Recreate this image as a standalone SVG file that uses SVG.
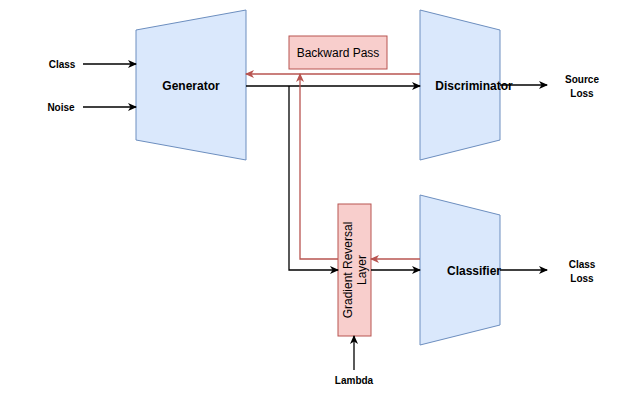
<svg xmlns="http://www.w3.org/2000/svg" width="637" height="407" viewBox="0 0 637 407">
<style>
.blk{fill:#dae8fc;stroke:#6c8ebf;stroke-width:1}
.red{fill:#f8cecc;stroke:#b85450;stroke-width:1}
.t{font-family:'Liberation Sans',Arial,sans-serif;fill:#000}
.b{font-weight:bold}
.k{fill:none;stroke:#000;stroke-width:1.3}
.r{fill:none;stroke:#b85450;stroke-width:1.3}
</style>
<defs>
<marker id="ak" markerWidth="10" markerHeight="10" refX="8" refY="5" orient="auto" markerUnits="userSpaceOnUse"><path d="M0,1 L9,5 L0,9 L2.5,5 Z" fill="#000"/></marker>
<marker id="ar" markerWidth="10" markerHeight="10" refX="8" refY="5" orient="auto" markerUnits="userSpaceOnUse"><path d="M0,1 L9,5 L0,9 L2.5,5 Z" fill="#b85450"/></marker>
</defs>
<rect width="637" height="407" fill="#fff"/>
<g id="generator"><path class="blk" d="M136,30 L246,10 L246,160 L136,140 Z"/><text class="t b" x="191" y="90" font-size="12" text-anchor="middle">Generator</text></g>
<g id="discriminator"><path class="blk" d="M420,10 L500,30 L500,140 L420,160 Z"/><text class="t b" x="474" y="90" font-size="12" text-anchor="middle">Discriminator</text></g>
<g id="classifier"><path class="blk" d="M420,195 L500,215 L500,325 L420,345 Z"/><text class="t b" x="474" y="275" font-size="12" text-anchor="middle">Classifier</text></g>
<g id="backward"><rect class="red" x="289" y="36" width="98" height="33"/><text class="t" x="338" y="57" font-size="12" text-anchor="middle">Backward Pass</text></g>
<g id="grl"><rect class="red" x="338" y="204" width="33" height="132"/><text class="t" font-size="12" text-anchor="middle" transform="translate(354.5,270) rotate(-90)"><tspan x="0" y="-3">Gradient Reversal</tspan><tspan x="0" y="11">Layer</tspan></text></g>
<g id="labels">
<text class="t b" x="62" y="68" font-size="10" text-anchor="middle">Class</text>
<text class="t b" x="61" y="111" font-size="10" text-anchor="middle">Noise</text>
<text class="t b" x="582" y="83" font-size="10" text-anchor="middle">Source</text>
<text class="t b" x="582" y="97" font-size="10" text-anchor="middle">Loss</text>
<text class="t b" x="582" y="268" font-size="10" text-anchor="middle">Class</text>
<text class="t b" x="582" y="282" font-size="10" text-anchor="middle">Loss</text>
<text class="t b" x="354" y="384" font-size="10" text-anchor="middle">Lambda</text>
</g>
<g id="connectors">
<path class="k" d="M83,64 L136,64" marker-end="url(#ak)"/>
<path class="k" d="M83,107 L136,107" marker-end="url(#ak)"/>
<path class="k" d="M246,86 L420,86" marker-end="url(#ak)"/>
<path class="k" d="M289,86 L289,270 L338,270" marker-end="url(#ak)"/>
<path class="k" d="M371,270 L420,270" marker-end="url(#ak)"/>
<path class="k" d="M500,85 L547,85" marker-end="url(#ak)"/>
<path class="k" d="M500,270 L547,270" marker-end="url(#ak)"/>
<path class="k" d="M354,370 L354,336" marker-end="url(#ak)"/>
<path class="r" d="M420,74 L246,74" marker-end="url(#ar)"/>
<path class="r" d="M420,259 L371,259" marker-end="url(#ar)"/>
<path class="r" d="M338,259 L300,259 L300,74" marker-end="url(#ar)"/>
</g>
</svg>
